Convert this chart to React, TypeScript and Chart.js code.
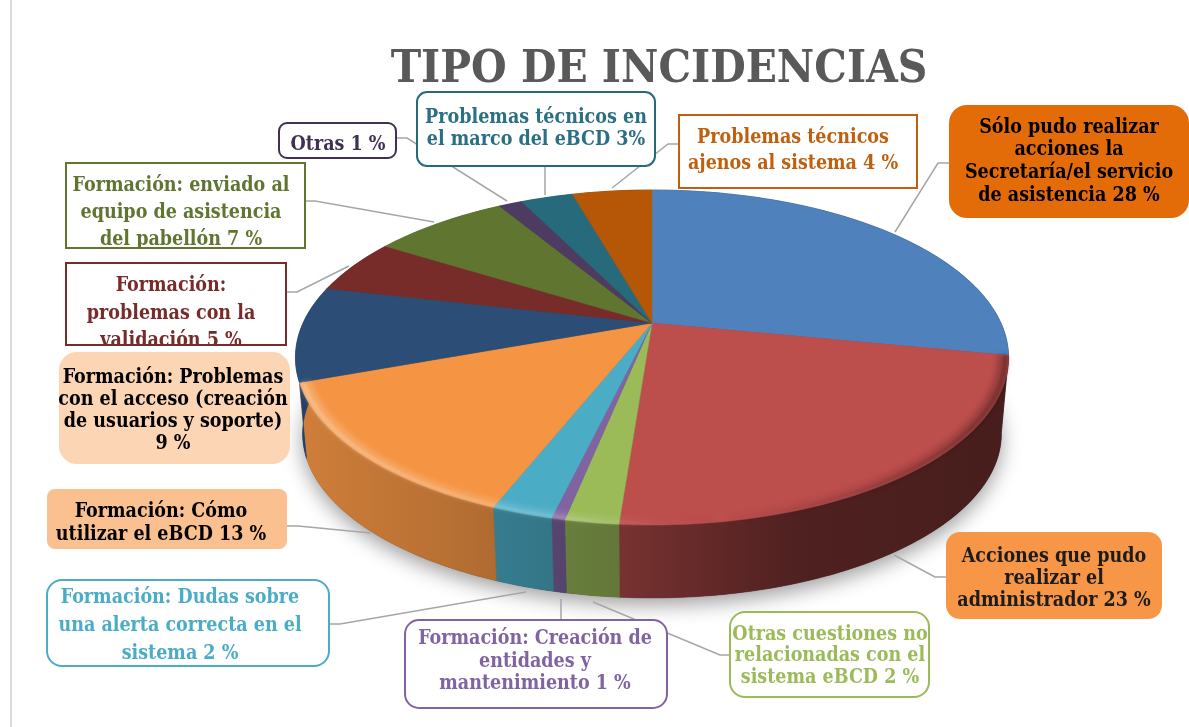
import React, { useEffect, useRef } from "react";
import { Chart, registerables } from "chart.js";

Chart.register(...registerables);

const titleText = "TIPO DE INCIDENCIAS";
const categories = [
  "Sólo pudo realizar acciones la Secretaría/el servicio de asistencia",
  "Acciones que pudo realizar el administrador",
  "Otras cuestiones no relacionadas con el sistema eBCD",
  "Formación: Creación de entidades y mantenimiento",
  "Formación: Dudas sobre una alerta correcta en el sistema",
  "Formación: Cómo utilizar el eBCD",
  "Formación: Problemas con el acceso (creación de usuarios y soporte)",
  "Formación: problemas con la validación",
  "Formación: enviado al equipo de asistencia del pabellón",
  "Otras",
  "Problemas técnicos en el marco del eBCD",
  "Problemas técnicos ajenos al sistema",
];
const sliceValues = [28.1, 23.1, 2.0, 0.5, 2.3, 13.4, 9.2, 5.3, 7.5, 1.3, 2.9, 4.4];
const sliceColors = [
  "#4f81bd", "#bc4e4c", "#9bbb59", "#8064a2", "#4bacc6", "#f59544",
  "#2c4d75", "#772c2a", "#5f7530", "#4d3b62", "#276a7c", "#b65708",
];

type Label = {
  lines: string[]; box: number[]; baselines: number[]; cx: number; radius: number;
  fill: string; border: string | null; text: string; size: number; leader?: number[][];
};
const labelLayout: Label[] = [
  { lines: ["Sólo pudo realizar", "acciones la", "Secretaría/el servicio", "de asistencia 28 %"], box: [949, 105, 1189, 218], baselines: [133, 155, 178, 201], cx: 1069, radius: 18, fill: "#e36c09", border: null, text: "#000000", size: 19.5, leader: [[949, 163], [938, 163], [895, 232]] },
  { lines: ["Acciones que pudo", "realizar el", "administrador 23 %"], box: [946, 532, 1162, 619], baselines: [562, 584, 606], cx: 1054, radius: 14, fill: "#f79646", border: null, text: "#1c1c1c", size: 19.5, leader: [[946, 577], [935, 577], [894, 555]] },
  { lines: ["Otras cuestiones no", "relacionadas con el", "sistema eBCD 2 %"], box: [730, 612, 929, 697], baselines: [640, 661, 683], cx: 830, radius: 15, fill: "#ffffff", border: "#9bbb59", text: "#9bbb59", size: 19.5, leader: [[730, 655], [720, 655], [593, 602]] },
  { lines: ["Formación: Creación de", "entidades y", "mantenimiento 1 %"], box: [405, 620, 667, 708], baselines: [644, 667, 689], cx: 535, radius: 14, fill: "#ffffff", border: "#8064a2", text: "#8064a2", size: 19.5, leader: [[561, 620], [561, 599]] },
  { lines: ["Formación: Dudas sobre", "una alerta correcta en el", "sistema 2 %"], box: [47, 580, 329, 666], baselines: [603, 631, 659], cx: 180, radius: 15, fill: "#ffffff", border: "#4bacc6", text: "#4bacc6", size: 19.5, leader: [[328, 624], [340, 624], [526, 592]] },
  { lines: ["Formación: Cómo", "utilizar el eBCD 13 %"], box: [47, 489, 287, 549], baselines: [517, 540], cx: 161, radius: 8, fill: "#fac090", border: null, text: "#000000", size: 19.5, leader: [[287, 526], [298, 526], [371, 533]] },
  { lines: ["Formación: Problemas", "con el acceso (creación", "de usuarios y soporte)", "9 %"], box: [59, 352, 290, 464], baselines: [383, 405, 427, 449], cx: 173, radius: 18, fill: "#fcd5b4", border: null, text: "#000000", size: 19.5 },
  { lines: ["Formación:", "problemas con la", "validación 5 %"], box: [66, 263, 286, 345], baselines: [291, 319, 346], cx: 171, radius: 0, fill: "#ffffff", border: "#772c2a", text: "#772c2a", size: 19.5, leader: [[287, 292], [297, 292], [349, 266]] },
  { lines: ["Formación: enviado al", "equipo de asistencia", "del pabellón 7 %"], box: [66, 163, 305, 248], baselines: [191, 218, 245], cx: 181, radius: 0, fill: "#ffffff", border: "#5f7530", text: "#5f7530", size: 19.5, leader: [[306, 201], [315, 201], [434, 222]] },
  { lines: ["Otras 1 %"], box: [279, 123, 396, 158], baselines: [150], cx: 338, radius: 8, fill: "#ffffff", border: "#403152", text: "#403152", size: 19.5, leader: [[396, 138], [407, 138], [507, 201]] },
  { lines: ["Problemas técnicos en", "el marco del eBCD 3%"], box: [417, 92, 655, 166], baselines: [123, 145], cx: 536, radius: 10, fill: "#ffffff", border: "#276a7c", text: "#2b6f84", size: 19.5, leader: [[545, 166], [545, 195]] },
  { lines: ["Problemas técnicos", "ajenos al sistema 4 %"], box: [679, 115, 917, 188], baselines: [143, 169], cx: 793, radius: 0, fill: "#ffffff", border: "#bf6010", text: "#bf6010", size: 19.5, leader: [[678, 144], [668, 144], [612, 188]] },
];

const FONT = '"DejaVu Serif Condensed", "Liberation Serif", serif';
const PIE = { cx: 652, cy: 323, a: 348.9, b: 160.4, k: 0.206, wallDy: 77, wallScale: 0.98 };

function project(theta: number, r: number, wall: boolean) {
  const u = r * Math.cos(theta);
  const v = r * Math.sin(theta);
  const w = 1 - PIE.k * v;
  const s = wall ? PIE.wallScale : 1;
  return [PIE.cx + (s * PIE.a * u) / w, PIE.cy + (wall ? PIE.wallDy : 0) + (s * PIE.b * v) / w];
}
function arcPoints(t0: number, t1: number, r: number, wall: boolean) {
  const n = Math.max(2, Math.ceil(Math.abs(t1 - t0) / 0.02));
  const pts: number[][] = [];
  for (let i = 0; i <= n; i++) pts.push(project(t0 + ((t1 - t0) * i) / n, r, wall));
  return pts;
}
function tracePoly(ctx: CanvasRenderingContext2D, pts: number[][]) {
  ctx.beginPath();
  pts.forEach((p, i) => (i ? ctx.lineTo(p[0], p[1]) : ctx.moveTo(p[0], p[1])));
  ctx.closePath();
}
function shade(hex: string, f: number) {
  const n = parseInt(hex.slice(1), 16);
  return `rgb(${Math.round(((n >> 16) & 255) * f)},${Math.round(((n >> 8) & 255) * f)},${Math.round((n & 255) * f)})`;
}

const pie3d = {
  id: "pie3d",
  beforeDatasetDraw(chart: any) {
    const ctx: CanvasRenderingContext2D = chart.ctx;
    const arcs = chart.getDatasetMeta(0).data;
    ctx.save();
    // floor shadow
    ctx.save();
    ctx.shadowColor = "rgba(0,0,0,0.38)";
    ctx.shadowBlur = 20;
    ctx.shadowOffsetY = 7;
    ctx.fillStyle = "#444";
    tracePoly(ctx, arcPoints(0, Math.PI * 2, 1, true));
    ctx.fill();
    ctx.restore();
    // walls
    arcs.forEach((el: any) => {
      const color = el.options.backgroundColor;
      const g = ctx.createLinearGradient(295, 0, 1008, 0);
      [[0, 0.85], [0.28, 0.72], [0.45, 0.64], [0.7, 0.42], [1, 0.38]].forEach(([s, f]) => g.addColorStop(s, shade(color, f)));
      const poly = [...arcPoints(el.startAngle, el.endAngle, 1, false), ...arcPoints(el.endAngle, el.startAngle, 1, true)];
      tracePoly(ctx, poly);
      ctx.fillStyle = g;
      ctx.strokeStyle = g;
      ctx.lineWidth = 0.5;
      ctx.fill();
      ctx.stroke();
    });
    // top surface
    arcs.forEach((el: any) => {
      const poly = [[PIE.cx, PIE.cy], ...arcPoints(el.startAngle, el.endAngle, 1, false)];
      tracePoly(ctx, poly);
      ctx.fillStyle = el.options.backgroundColor;
      ctx.strokeStyle = el.options.backgroundColor;
      ctx.lineWidth = 0.5;
      ctx.fill();
      ctx.stroke();
    });
    // bevel on the front rim: from the end of the first slice to the end of the sixth
    const rimStart = arcs[0].endAngle;
    const rimEnd = arcs[5].endAngle;
    const rim = ctx.createLinearGradient(295, 0, 1008, 0);
    rim.addColorStop(0, "rgba(255,255,255,0.2)");
    rim.addColorStop(0.38, "rgba(255,255,255,0.12)");
    rim.addColorStop(0.5, "rgba(255,255,255,0.02)");
    rim.addColorStop(0.6, "rgba(0,0,0,0)");
    rim.addColorStop(1, "rgba(0,0,0,0.2)");
    ctx.save();
    ctx.filter = "blur(2.5px)";
    ctx.fillStyle = rim;
    tracePoly(ctx, [...arcPoints(rimStart, rimEnd, 1, false), ...arcPoints(rimEnd, rimStart, 0.97, false)]);
    ctx.fill();
    ctx.restore();
    ctx.save();
    ctx.filter = "blur(1px)";
    ctx.fillStyle = rim;
    tracePoly(ctx, [...arcPoints(rimStart, rimEnd, 1, false), ...arcPoints(rimEnd, rimStart, 0.985, false)]);
    ctx.fill();
    ctx.restore();
    ctx.restore();
    return false;
  },
};

const annotations = {
  id: "annotations",
  afterDraw(chart: any) {
    const ctx: CanvasRenderingContext2D = chart.ctx;
    ctx.save();
    ctx.strokeStyle = "#d9d9d9";
    ctx.lineWidth = 2;
    ctx.beginPath();
    ctx.moveTo(11, 0);
    ctx.lineTo(11, 727);
    ctx.stroke();
    ctx.strokeStyle = "#a6a6a6";
    ctx.lineWidth = 1.5;
    labelLayout.forEach((l) => {
      if (!l.leader) return;
      ctx.beginPath();
      l.leader.forEach((p, i) => (i ? ctx.lineTo(p[0], p[1]) : ctx.moveTo(p[0], p[1])));
      ctx.stroke();
    });
    labelLayout.forEach((l) => {
      const [x0, y0, x1, y1] = l.box;
      ctx.beginPath();
      ctx.roundRect(x0, y0, x1 - x0, y1 - y0, l.radius);
      ctx.fillStyle = l.fill;
      ctx.fill();
      ctx.save();
      ctx.clip();
      ctx.fillStyle = l.text;
      ctx.font = `bold ${l.size}px ${FONT}`;
      ctx.textAlign = "center";
      ctx.textBaseline = "alphabetic";
      l.lines.forEach((t, i) => ctx.fillText(t, l.cx, l.baselines[i]));
      ctx.restore();
      if (l.border) {
        ctx.beginPath();
        ctx.roundRect(x0, y0, x1 - x0, y1 - y0, l.radius);
        ctx.strokeStyle = l.border;
        ctx.lineWidth = 2;
        ctx.stroke();
      }
    });
    ctx.restore();
  },
};

export default function App() {
  const ref = useRef<HTMLCanvasElement>(null);
  useEffect(() => {
    const chart = new Chart(ref.current!, {
      type: "pie",
      data: {
        labels: categories,
        datasets: [{ data: sliceValues, backgroundColor: sliceColors, borderWidth: 0 }],
      },
      options: {
        animation: false,
        responsive: false,
        layout: { padding: { left: 129 } },
        plugins: {
          legend: { display: false },
          tooltip: { enabled: false },
          title: {
            display: true,
            text: titleText,
            color: "#595959",
            fullSize: false,
            padding: { top: 43, bottom: 0 },
            font: { family: FONT, size: 45.5, weight: "bold" },
          },
        },
      },
      plugins: [pie3d, annotations],
    } as any);
    return () => chart.destroy();
  }, []);
  return (
    <div style={{ position: "fixed", left: 0, top: 0, width: 1189, height: 727, background: "#fff" }}>
      <canvas ref={ref} width={1189} height={727} style={{ display: "block" }} />
    </div>
  );
}
